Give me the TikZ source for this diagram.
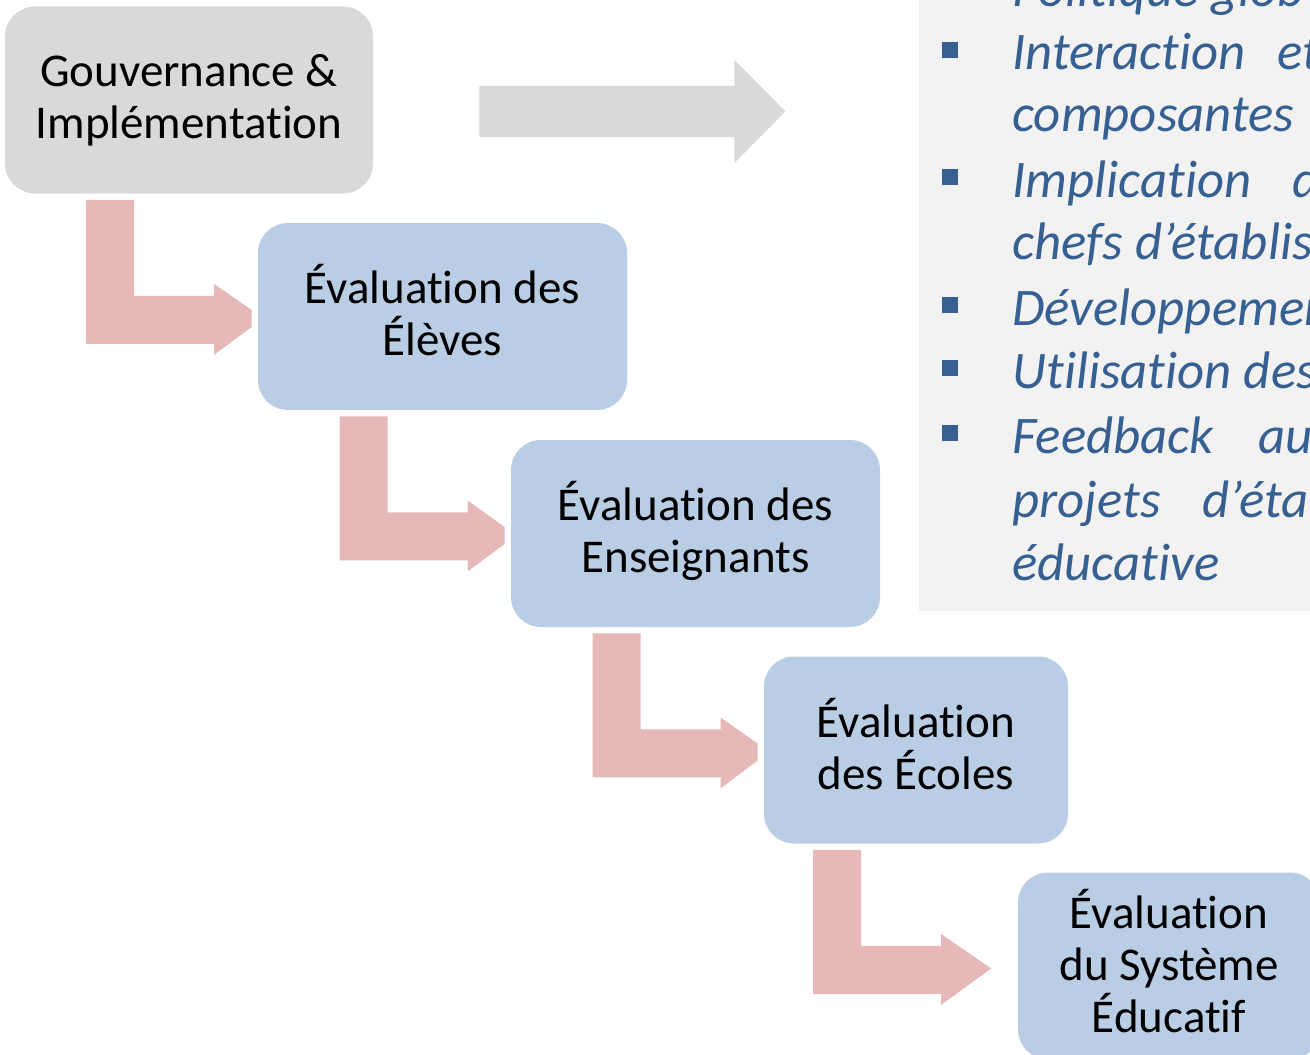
\documentclass[tikz,border=0pt]{standalone}
\usepackage{fontspec}
\setmainfont{Carlito}[Ligatures=NoCommon]
\usetikzlibrary{calc}
\definecolor{boxgray}{HTML}{D9D9D9}
\definecolor{boxblue}{HTML}{B9CDE5}
\definecolor{arrowpink}{HTML}{E6B9B8}
\definecolor{panelgray}{HTML}{F2F2F2}
\definecolor{listblue}{HTML}{376092}
\newcommand\bentflat[2]{%
  \fill[bentarrow] ($(#1.south)+(-103,6)$) -- ($(#1.south)+(-55,6)$) -- ($(#1.south)+(-55,102)$)
    -- ($(#1.south)+(25,102)$) -- ($(#1.south)+(25,90)$) -- ($(#2.west)+(-6,-6.5)$)
    -- ($(#2.west)+(-6,10.5)$) -- ($(#1.south)+(25,161)$) -- ($(#1.south)+(25,150)$)
    -- ($(#1.south)+(-103,150)$) -- cycle;}
\newcommand\bentpointed[2]{%
  \fill[bentarrow] ($(#1.south)+(-103,6)$) -- ($(#1.south)+(-55,6)$) -- ($(#1.south)+(-55,102)$)
    -- ($(#1.south)+(25,102)$) -- ($(#1.south)+(25,90)$) -- ($(#2.west)+(-26.5,2.5)$)
    -- ($(#1.south)+(25,161)$) -- ($(#1.south)+(25,150)$)
    -- ($(#1.south)+(-103,150)$) -- cycle;}
\begin{document}
\begin{tikzpicture}[x=0.5pt,y=-0.5pt,
  stage/.style={rounded corners=15pt, inner sep=0pt, align=center,
    font=\fontsize{23.5pt}{26pt}\selectfont, text height=45pt, text depth=6pt,
    minimum height=93.5pt},
  bentarrow/.style={fill=arrowpink},
  listtxt/.style={anchor=base west, inner sep=0pt, text=listblue,
    font=\fontsize{26.4pt}{30pt}\selectfont\itshape},
  bulletsq/.style={fill=listblue}]
\useasboundingbox (0,0) rectangle (1310,1054);
\fill[white] (0,0) rectangle (1310,1054);
% text panel
\fill[panelgray] (919,0) rectangle (1310,611);
% stages
\node[stage, fill=boxgray, minimum width=184pt] (gov) at (189,100) {Gouvernance \&\\Implémentation};
\node[stage, fill=boxblue, minimum width=184.5pt] (eleves) at (442.5,316.5) {Évaluation des\\Élèves};
\node[stage, fill=boxblue, minimum width=184.5pt] (ens) at (695.5,533.5) {Évaluation des\\Enseignants};
\node[stage, fill=boxblue, minimum width=152pt] (ecoles) at (916,750) {Évaluation\\des Écoles};
\node[stage, fill=boxblue, minimum width=151pt, text height=72pt] (sys) at (1169,966) {Évaluation\\du Système\\Éducatif};
% grey arrow
\fill[boxgray] ($(gov.east)+(106,-14)$) -- ($(gov.east)+(361,-14)$) -- ($(gov.east)+(361,-40)$)
  -- ($(gov.east)+(412,11.5)$) -- ($(gov.east)+(361,63)$) -- ($(gov.east)+(361,37)$)
  -- ($(gov.east)+(106,37)$) -- cycle;
% bent arrows
\bentflat{gov}{eleves}
\bentflat{eleves}{ens}
\bentflat{ens}{ecoles}
\bentpointed{ecoles}{sys}
% list
\fill[bulletsq] (942,42) rectangle (958,58);
\fill[bulletsq] (942,169) rectangle (958,185);
\fill[bulletsq] (942,297) rectangle (958,313);
\fill[bulletsq] (942,360) rectangle (958,376);
\fill[bulletsq] (942,425) rectangle (958,441);
\node[listtxt] (l0) at (1012,7) {Politique glob};
\node[listtxt] (l1a) at (1012,70) {Interaction};
\node[listtxt] (l1b) at (1277,70) {et};
\node[listtxt] (l2) at (1012,132) {composantes};
\node[listtxt] (l3a) at (1012,197) {Implication};
\node[listtxt] (l3b) at (1292,197) {d};
\node[listtxt] (l4) at (1012,259) {chefs d’établis};
\node[listtxt] (l5) at (1012,325) {Développemen};
\node[listtxt] (l6) at (1012,388) {Utilisation des};
\node[listtxt] (l7a) at (1012,453) {Feedback};
\node[listtxt] (l7b) at (1258,453) {au};
\node[listtxt] (l8a) at (1012,517) {projets};
\node[listtxt] (l8b) at (1202,517) {d’éta};
\node[listtxt] (l9) at (1012,580) {éducative};
\end{tikzpicture}
\end{document}
